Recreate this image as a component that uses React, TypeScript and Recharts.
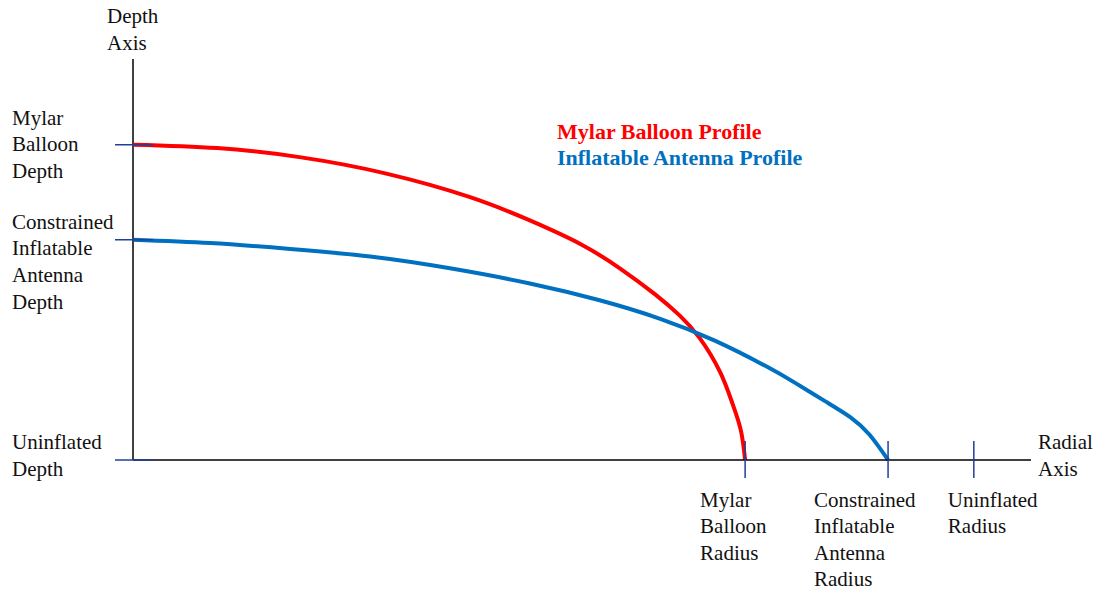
import { LineChart, Line, XAxis, YAxis, Legend } from 'recharts';

// profile samples, in % of the uninflated radius
const mylarRadius = [0, 10, 20, 30, 40, 47.2, 53.2, 57.9, 62.1, 65.0, 67.4, 69.8, 71.3, 72.3, 72.8];
const mylarDepth = [37.5, 37.1, 36.0, 34.1, 31.3, 28.5, 25.7, 22.8, 19.7, 17.2, 14.5, 10.5, 6.7, 3.5, 0];
const antennaRadius = [0, 9.2, 18.7, 28.2, 37.7, 47.2, 55.5, 62.7, 69.2, 75.2, 78.7, 82.3, 85.3, 87.6, 89.8];
const antennaDepth = [26.2, 25.8, 25.1, 24.2, 22.8, 21.0, 19.0, 16.8, 14.2, 11.2, 9.2, 7.0, 5.1, 3.0, 0];

const seriesNames = ['Mylar Balloon Profile', 'Inflatable Antenna Profile'];

const radialTicks = [72.8, 89.8, 100];
const radialLabels = [
  ['Mylar', 'Balloon', 'Radius'],
  ['Constrained', 'Inflatable', 'Antenna', 'Radius'],
  ['Uninflated', 'Radius'],
];
const depthTicks = [0, 26.2, 37.5];
const depthLabels = [
  ['Uninflated', 'Depth'],
  ['Constrained', 'Inflatable', 'Antenna', 'Depth'],
  ['Mylar', 'Balloon', 'Depth'],
];

const mylarData = mylarRadius.map((r, i) => ({ r, d: mylarDepth[i] }));
const antennaData = antennaRadius.map((r, i) => ({ r, d: antennaDepth[i] }));

const FONT = '"Liberation Serif", "Times New Roman", serif';
const TICK_BLUE = '#203f9a';
const LINE_H = 26.6;
// per-label layout tweaks (label left edge relative to tick, first line offset)
const radialLabelDx = [-45, -74, -26];
const depthFirstDy = [-18, -18, -27];

function lines(words: string[], x: number, y0: number) {
  return (
    <text x={x} fontFamily={FONT} fontSize={21} fill="#111">
      {words.map((w, i) => (
        <tspan key={i} x={x} y={y0 + i * LINE_H} dominantBaseline="central">{w}</tspan>
      ))}
    </text>
  );
}

function RadialTick(props: any) {
  const { x, y, payload } = props;
  const i = radialTicks.indexOf(payload.value);
  return (
    <g>
      <line x1={x} x2={x} y1={y - 19} y2={y + 18} stroke={TICK_BLUE} strokeWidth={1.5} />
      {lines(radialLabels[i], x + radialLabelDx[i], y + 39.5)}
    </g>
  );
}

function DepthTick(props: any) {
  const { x, y, payload } = props;
  const i = depthTicks.indexOf(payload.value);
  return (
    <g>
      <line x1={x - 18} x2={x + 20} y1={y} y2={y} stroke={TICK_BLUE} strokeWidth={1.5} />
      {lines(depthLabels[i], 12, y + depthFirstDy[i])}
    </g>
  );
}

function ProfileLegend(props: any) {
  const items = [...props.payload].sort((a: any, b: any) => seriesNames.indexOf(a.value) - seriesNames.indexOf(b.value));
  return (
    <div style={{ fontFamily: FONT, fontWeight: 'bold', fontSize: 22, lineHeight: '26px' }}>
      {items.map((p: any) => (
        <div key={p.value} style={{ color: p.color }}>{p.value}</div>
      ))}
    </div>
  );
}

export default function App() {
  return (
    <div style={{ position: 'absolute', left: 0, top: 0, background: '#fff' }}>
      <LineChart width={1099} height={590} margin={{ top: 59, right: 68, bottom: 129, left: 132 }}>
        <Legend
          layout="vertical"
          align="center"
          verticalAlign="middle"
          content={ProfileLegend}
          wrapperStyle={{ left: 557, top: 119, width: 'auto' }}
        />
        <Line data={mylarData} dataKey="d" name={seriesNames[0]} type="natural" stroke="#ff0000" strokeWidth={4} dot={false} isAnimationActive={false} />
        <Line data={antennaData} dataKey="d" name={seriesNames[1]} type="natural" stroke="#0070c0" strokeWidth={4} dot={false} isAnimationActive={false} />
        <XAxis
          type="number"
          dataKey="r"
          domain={[0, 106.8]}
          ticks={radialTicks}
          interval={0}
          height={1}
          tickSize={0}
          tickMargin={0}
          tickLine={false}
          axisLine={{ stroke: '#000', strokeWidth: 1.5 }}
          tick={<RadialTick />}
          label={{
            content: (p: any) => lines(['Radial', 'Axis'], p.viewBox.x + p.viewBox.width + 7, p.viewBox.y - 18),
          }}
        />
        <YAxis
          type="number"
          domain={[0, 47.7]}
          ticks={depthTicks}
          interval={0}
          width={1}
          tickSize={0}
          tickMargin={0}
          tickLine={false}
          axisLine={{ stroke: '#404040', strokeWidth: 2 }}
          tick={<DepthTick />}
          label={{
            content: (p: any) => lines(['Depth', 'Axis'], p.viewBox.x - 25, p.viewBox.y - 43),
          }}
        />
      </LineChart>
    </div>
  );
}
